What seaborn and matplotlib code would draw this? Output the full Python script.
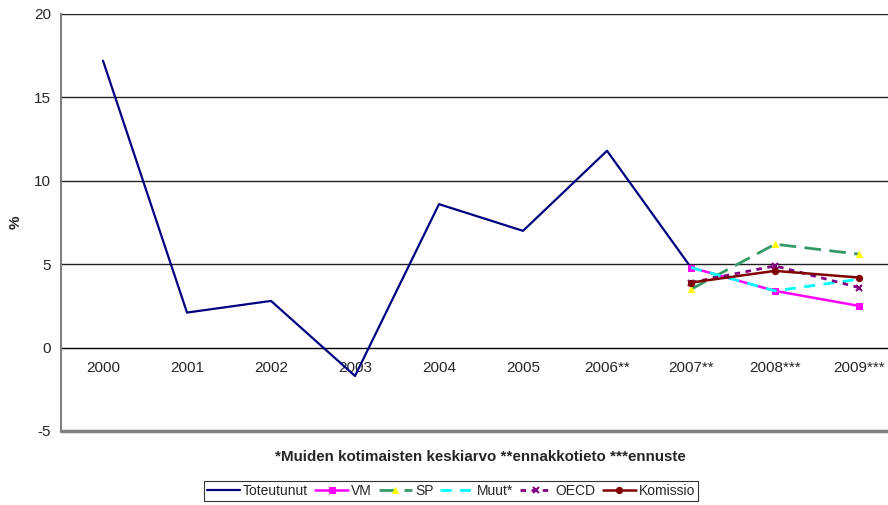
import numpy as np
import pandas as pd
import matplotlib
matplotlib.use("Agg")
import matplotlib.pyplot as plt
import seaborn as sns

years = ["2000", "2001", "2002", "2003", "2004", "2005",
         "2006**", "2007**", "2008***", "2009***"]

toteutunut = [17.2, 2.1, 2.8, -1.7, 8.6, 7.0, 11.8, 4.8]
vm = [4.8, 3.4, 2.5]
sp = [3.5, 6.2, 5.6]
muut = [4.8, 3.4, 4.1]
oecd = [3.9, 4.9, 3.6]
komissio = [3.9, 4.6, 4.2]

series = {
    "Toteutunut": (years[:8], toteutunut),
    "VM": (years[7:], vm),
    "SP": (years[7:], sp),
    "Muut*": (years[7:], muut),
    "OECD": (years[7:], oecd),
    "Komissio": (years[7:], komissio),
}

styles = {
    "Toteutunut": dict(color="#000080", lw=1.6, ls="-", marker=None),
    "VM": dict(color="#FF00FF", lw=1.8, ls="-", marker="s", mfc="#FF00FF", mec="#FF00FF", ms=5),
    "SP": dict(color="#339966", lw=2.0, ls=(0, (6, 3)), marker="^", mfc="#FFFF00", mec="#FFFF00", ms=5),
    "Muut*": dict(color="#00FFFF", lw=2.0, ls=(0, (4, 3)), marker=None),
    "OECD": dict(color="#800080", lw=2.0, ls=(0, (2, 2)), marker="x", mfc="#800080", mec="#800080", ms=5),
    "Komissio": dict(color="#800000", lw=1.8, ls="-", marker="o", mfc="#800000", mec="#800000", ms=4.5),
}

rows = []
for name, (xs, ys) in series.items():
    for x, y in zip(xs, ys):
        rows.append({"name": name, "pos": years.index(x), "value": y})
df = pd.DataFrame(rows)

sns.set_style("white")
plt.rcParams["font.family"] = ["Liberation Sans", "DejaVu Sans"]
plt.rcParams["font.size"] = 11
plt.rcParams["axes.unicode_minus"] = False

fig = plt.figure(figsize=(8.88, 5.05), dpi=100)
ax = fig.add_axes([61 / 888, 1 - 431 / 505, 840 / 888, 417 / 505])

for name in series:
    st = styles[name]
    sub = df[df["name"] == name]
    kw = dict(color=st["color"], linewidth=st["lw"], linestyle=st["ls"])
    if st["marker"]:
        kw.update(marker=st["marker"], markerfacecolor=st["mfc"],
                  markeredgecolor=st["mec"], markersize=st["ms"])
        if st["marker"] == "x":
            kw["markeredgewidth"] = 1.5
    sns.lineplot(data=sub, x="pos", y="value", ax=ax, label=name, **kw)

ax.set_xlim(-0.5, len(years) - 0.5)
ax.set_ylim(-5, 20)
ax.set_yticks(np.arange(-5, 21, 5))

# gridlines at positive levels
for v in [5, 10, 15, 20]:
    ax.axhline(v, color="#202020", lw=1.0, zorder=0)

# category axis drawn on the zero line
ax.spines["bottom"].set_position(("data", 0))
ax.spines["bottom"].set_color("black")
ax.spines["bottom"].set_linewidth(1.0)
ax.spines["bottom"].set_zorder(1)
ax.set_xticks(np.arange(len(years)))
ax.set_xticklabels(years)
ax.set_xticks(np.arange(len(years) - 1) + 0.5, minor=True)
ax.tick_params(axis="x", which="major", length=0, pad=10, labelsize=11)
ax.tick_params(axis="x", which="minor", length=3, width=1, color="#404040", direction="out")
ax.tick_params(axis="y", length=4, width=1, color="#404040", direction="out", pad=3, labelsize=11)

ax.spines["left"].set_color("#808080")
ax.spines["left"].set_linewidth(1.5)
ax.spines["top"].set_visible(False)
ax.spines["right"].set_visible(False)
ax.axhline(-5, color="#808080", lw=2.5, clip_on=False, zorder=0)

ax.set_xlabel("")
ax.set_ylabel("")
fig.text(16 / 888, 1 - 222 / 505, "%", rotation=90, ha="center", va="center",
         fontweight="bold", fontsize=11)
fig.text(480 / 888, 1 - 457 / 505, "*Muiden kotimaisten keskiarvo **ennakkotieto ***ennuste",
         ha="center", va="center", fontweight="bold", fontsize=10.9)

h, l = ax.get_legend_handles_labels()
ax.get_legend().remove()
leg = fig.legend(h, l, loc="center", bbox_to_anchor=(451 / 888, 1 - 491 / 505), ncol=6,
                 frameon=True, fancybox=False, edgecolor="black", fontsize=10,
                 handlelength=2.4, handletextpad=0.2, columnspacing=0.5,
                 borderpad=0.2, borderaxespad=0)
leg.get_frame().set_linewidth(0.8)

fig.savefig("out.png", dpi=100)
